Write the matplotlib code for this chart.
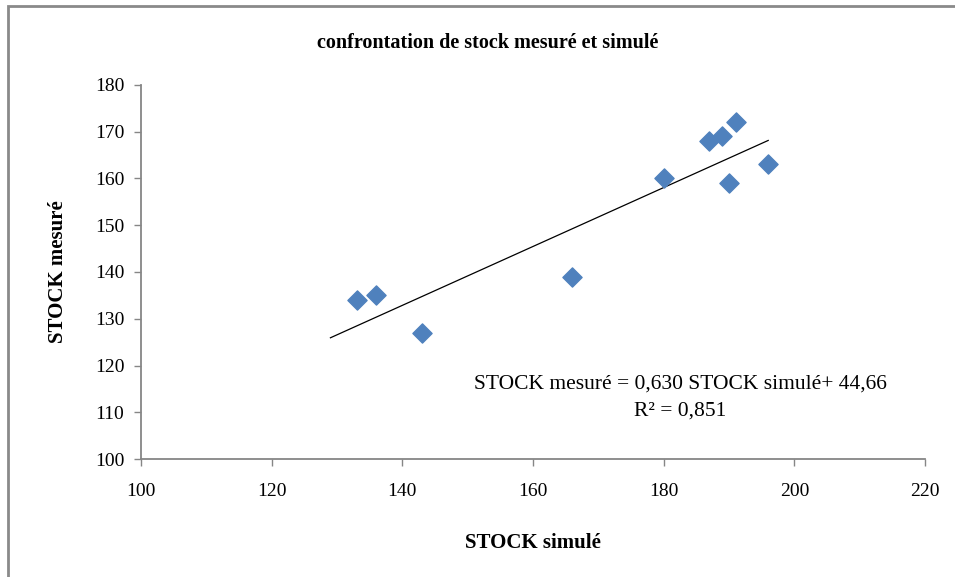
import numpy as np
import matplotlib.pyplot as plt
from matplotlib.patches import Rectangle

# stock simulé / stock mesuré
stock_simule = [133, 136, 143, 166, 180, 187, 189, 191, 190, 196]
stock_mesure = [134, 135, 127, 139, 160, 168, 169, 172, 159, 163]

# droite de tendance (affichée sur le graphe)
pente = 0.630
ordonnee = 44.66
r2 = 0.851
x_tendance = [129, 196]

plt.rcParams['font.family'] = ['Liberation Serif', 'DejaVu Serif']

fig = plt.figure(figsize=(9.55, 5.77), dpi=100)
ax = fig.add_axes([0.1476, 0.2045, 0.821, 0.6482])

# cadre gris autour du graphique
fig.patches.append(Rectangle((8/955, -0.1), 1.2, 1.1 - 6/577, transform=fig.transFigure,
                             fill=False, edgecolor='#8a8a8a', linewidth=2.0))

xt = np.array(x_tendance)
ax.plot(xt, pente*xt + ordonnee, color='black', linewidth=0.9, zorder=2)
ax.scatter(stock_simule, stock_mesure, marker='D', s=95, color='#4f81bd',
           edgecolors='#4f81bd', zorder=3)

ax.set_xlim(100, 220)
ax.set_ylim(100, 180)
ax.set_xticks(range(100, 221, 20))
ax.set_yticks(range(100, 181, 10))

for s in ['top', 'right']:
    ax.spines[s].set_visible(False)
for s in ['left', 'bottom']:
    ax.spines[s].set_color('#868686')
    ax.spines[s].set_linewidth(1.3)
ax.tick_params(direction='out', length=5, width=1, color='#868686',
               labelsize=14, labelcolor='black', pad=7)
ax.tick_params(axis='x', pad=12)

ax.set_xlabel('STOCK simulé', fontsize=15, fontweight='bold', labelpad=24)
ax.set_ylabel('STOCK mesuré', fontsize=15, fontweight='bold', labelpad=19)
fig.text(0.511, 0.925, 'confrontation de stock mesuré et simulé',
         ha='center', va='center', fontsize=14.5, fontweight='bold')

ax.text(182.5, 116.0, 'STOCK mesuré = %s STOCK simulé+ %s' % (('%.3f' % pente).replace('.', ','), ('%.2f' % ordonnee).replace('.', ',')),
        ha='center', va='center', fontsize=15.5)
ax.text(182.5, 110.3, 'R² = %s' % ('%.3f' % r2).replace('.', ','),
        ha='center', va='center', fontsize=15.5)

fig.savefig('out.png', dpi=100)
